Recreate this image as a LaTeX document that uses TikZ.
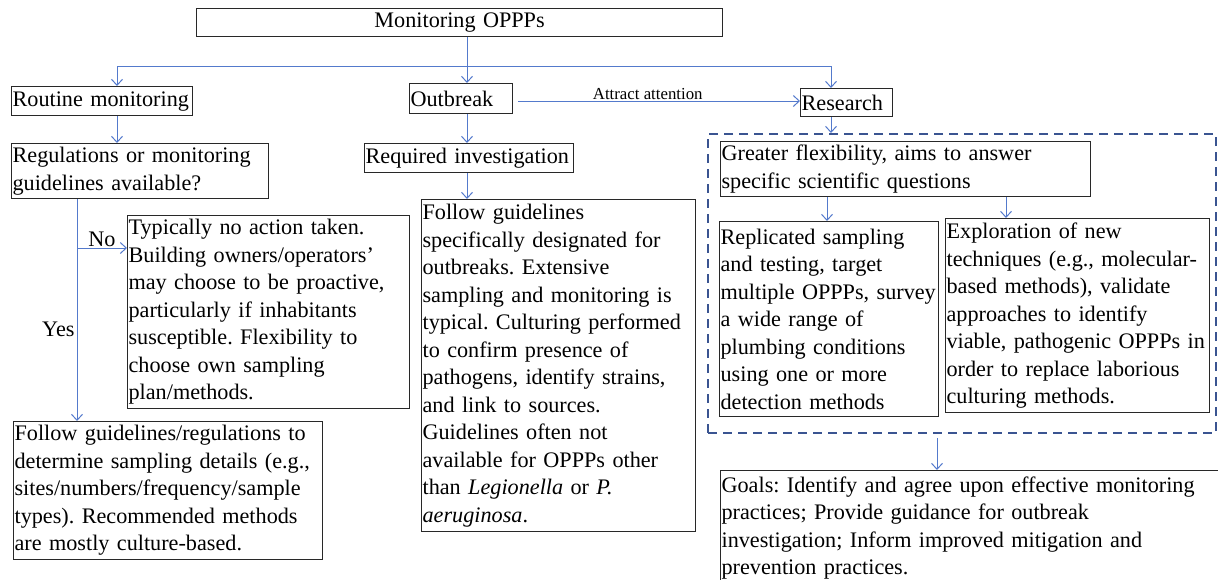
\documentclass[tikz,border=0pt]{standalone}
\usepackage{fontspec}
\setmainfont{Liberation Serif}
\usetikzlibrary{arrows.meta}

\definecolor{flowblue}{RGB}{84,122,204}
\definecolor{dashblue}{RGB}{58,84,145}
\definecolor{boxgray}{RGB}{40,40,40}
\newcommand{\boxfont}{\fontsize{22.2}{27.5}\selectfont\frenchspacing\hyphenpenalty=10000}
\newcommand{\notefont}{\fontsize{16.8}{20}\selectfont}

\tikzset{
  box/.style={draw=boxgray, line width=1.2pt, anchor=north west, align=left,
    inner xsep=1pt, inner ysep=1pt, font=\boxfont},
  dashbox/.style={draw=dashblue, line width=2.4pt, dash pattern=on 9pt off 6pt,
    anchor=north west, inner sep=0pt},
  flow/.style={flowblue, line width=1pt, -{Straight Barb[length=6pt,width=11pt]}},
  note/.style={inner sep=1pt, font=\boxfont, text=black}
}

\begin{document}
\begin{tikzpicture}[x=1pt, y=-1pt]
  \clip (0,0) rectangle (1218,579);

  % top and the three branches
  \node[box, align=center, text width=524pt, minimum height=28pt] (title) at (196,8) {Monitoring OPPPs};
  \node[box, text width=179pt, minimum height=29pt] (routine) at (11,86) {Routine monitoring};
  \node[box, text width=101pt, minimum height=30pt] (outbreak) at (409,83) {Outbreak};
  \node[box, text width=90pt, minimum height=28pt] (research) at (800,88) {Research};

  % routine monitoring
  \node[box, text width=255pt, minimum height=55pt] (regs) at (11,143)
    {Regulations or monitoring\\guidelines available?};
  \node[box, text width=280pt, minimum height=193pt] (typical) at (127,215)
    {Typically no action taken.\\Building owners/operators'\\may choose to be proactive,\\particularly if inhabitants\\susceptible. Flexibility to\\choose own sampling\\plan/methods.};
  \node[box, text width=307pt, minimum height=138pt] (follow1) at (13,421)
    {Follow guidelines/regulations to\\determine sampling details (e.g.,\\sites/numbers/frequency/sample\\types). Recommended methods\\are mostly culture-based.};

  % outbreak
  \node[box, text width=207pt, minimum height=29pt] (required) at (364,143) {Required investigation};
  \node[box, text width=272pt, minimum height=332pt] (follow2) at (421,199)
    {Follow guidelines\\specifically designated for\\outbreaks. Extensive\\sampling and monitoring is\\typical. Culturing performed\\to confirm presence of\\pathogens, identify strains,\\and link to sources.\\Guidelines often not\\available for OPPPs other\\than \textit{Legionella} or \textit{P.}\\\textit{aeruginosa}.};

  % research
  \node[dashbox, minimum width=508pt, minimum height=299pt] (dframe) at (707,133) {};
  \node[box, text width=368pt, minimum height=55pt] (greater) at (720,141)
    {Greater flexibility, aims to answer\\specific scientific questions};
  \node[box, text width=217pt, minimum height=195pt] (replicated) at (719,221)
    {Replicated sampling\\and testing, target\\multiple OPPPs, survey\\a wide range of\\plumbing conditions\\using one or more\\detection methods};
  \node[box, text width=262pt, minimum height=194pt] (exploration) at (945,218)
    {Exploration of new\\techniques (e.g., molecular-\\based methods), validate\\approaches to identify\\viable, pathogenic OPPPs in\\order to replace laborious\\culturing methods.};
  \node[box, text width=503pt, minimum height=115pt] (goals) at (720,470)
    {Goals: Identify and agree upon effective monitoring\\practices; Provide guidance for outbreak\\investigation; Inform improved mitigation and\\prevention practices.};

  % connector columns and free ends
  \coordinate (bus) at (467,66);
  \coordinate (xr) at (117,0);
  \coordinate (xs) at (831,0);
  \coordinate (xn) at (77,0);
  \coordinate (nob) at (77,248);
  \coordinate (xa) at (827,0);
  \coordinate (xb) at (1006,0);
  \coordinate (attr) at (518,101);
  \coordinate (gstart) at (937,438);

  \draw[flow] (title.south -| bus) -- (outbreak.north -| bus);
  \draw[flow] (bus) -| (routine.north -| xr);
  \draw[flow] (bus) -| (research.north -| xs);

  \path[flow]
    (routine.south -| xr) edge (regs.north -| xr)
    (regs.south -| xn) edge node[note, pos=0.587, left=1pt] {Yes} (follow1.north -| xn)
    (nob) edge node[note, midway, above] {No} (nob -| typical.west)
    (outbreak.south -| bus) edge (required.north -| bus)
    (required.south -| bus) edge (follow2.north -| bus)
    (attr) edge node[note, pos=0.46, above, font=\notefont] {Attract attention} (attr -| research.west)
    (research.south -| xs) edge (dframe.north -| xs)
    (greater.south -| xa) edge (replicated.north -| xa)
    (greater.south -| xb) edge (exploration.north -| xb)
    (gstart) edge (goals.north -| gstart);
\end{tikzpicture}
\end{document}
